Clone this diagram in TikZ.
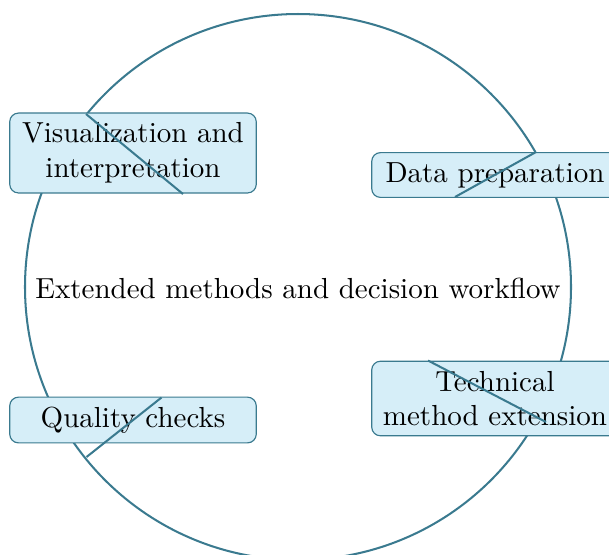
\documentclass[tikz,border=0pt]{standalone}
\usepackage{xcolor}
\definecolor{ringcol}{RGB}{58,122,143}
\definecolor{boxfill}{RGB}{214,238,248}
\begin{document}
\begin{tikzpicture}[x=0.3448pt, y=-0.3448pt,
  stagebox/.style={draw=ringcol, line width=0.4pt, fill=boxfill, rounded corners=3pt,
    minimum width=85pt, inner sep=3.33pt, align=center},
  ring/.style={draw=ringcol, line width=0.7pt}]
\clip (0,0) rectangle (609,554);
\node (center) at (298,288) {Extended methods and decision workflow};
\draw[ring] (298,287) circle[radius=94.13pt];
\node[stagebox] (vis) at (133,153) {Visualization and\\interpretation};
\node[stagebox] (prep) at (495,175) {Data preparation};
\node[stagebox] (tech) at (495,398.5) {Technical\\method extension};
\node[stagebox] (qual) at (133,420) {Quality checks};
\coordinate (v1) at (86,114);
\coordinate (v2) at (183,194);
\coordinate (p1) at (536,152);
\coordinate (p2) at (455,197);
\coordinate (t1) at (428,360.5);
\coordinate (t2) at (546,422);
\coordinate (q1) at (161.5,397.5);
\coordinate (q2) at (86.5,457);
\draw[ring] (v1) -- (v2);
\draw[ring] (p1) -- (p2);
\draw[ring] (t1) -- (t2);
\draw[ring] (q1) -- (q2);
\end{tikzpicture}
\end{document}
